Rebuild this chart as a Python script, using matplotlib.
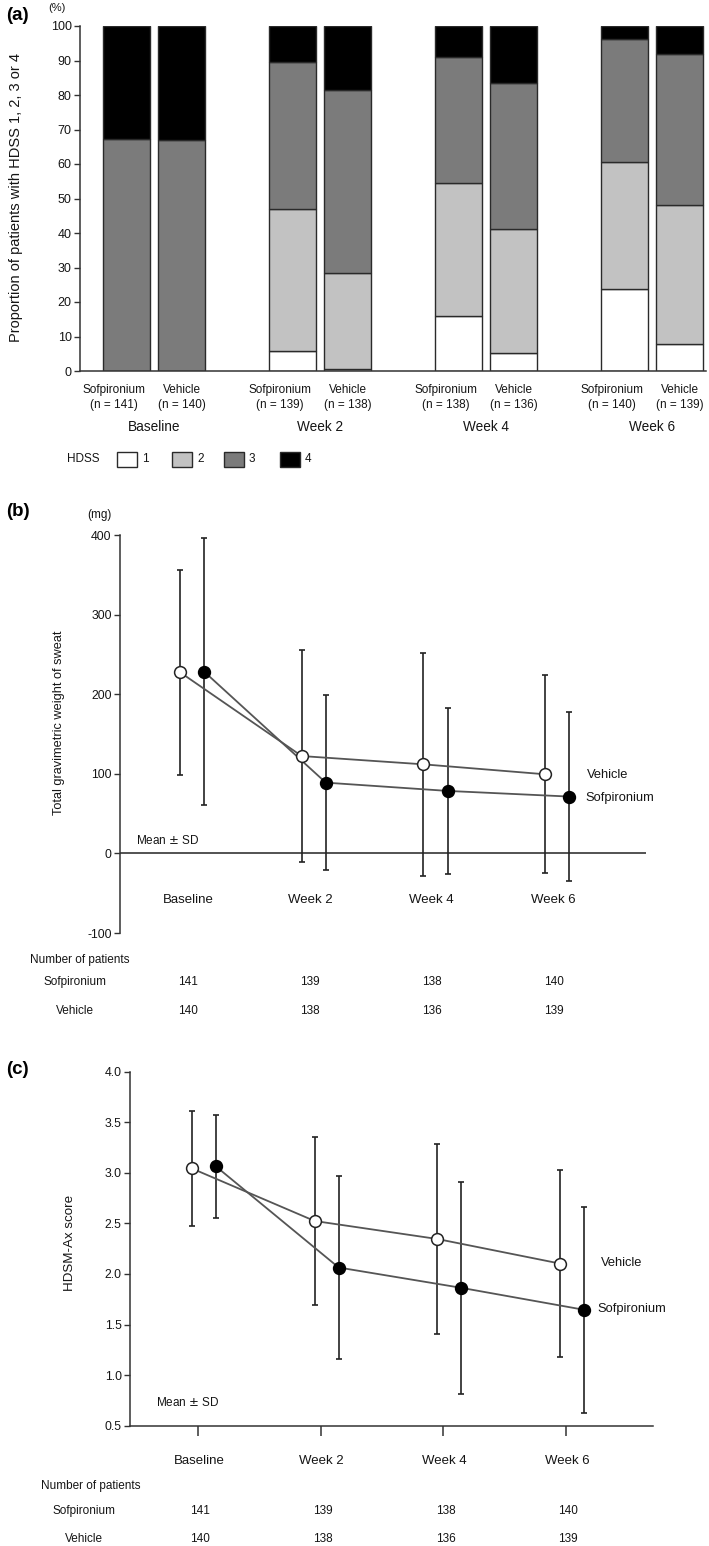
import matplotlib
matplotlib.use('Agg')
import matplotlib.pyplot as plt
import matplotlib.transforms as mtransforms
from matplotlib.patches import Rectangle
import numpy as np

plt.rcParams['font.family'] = ['Liberation Sans Narrow', 'Liberation Sans', 'DejaVu Sans']

# ---------------- data ----------------
timepoints = ['Baseline', 'Week 2', 'Week 4', 'Week 6']
treatments = ['Sofpironium', 'Vehicle']
n_sof = [141, 139, 138, 140]
n_veh = [140, 138, 136, 139]

# (a) HDSS proportions (%)
hdss_levels = ['1', '2', '3', '4']
hdss1_sof = [0.0, 5.9, 15.9, 23.7]
hdss2_sof = [0.0, 41.0, 38.5, 37.0]
hdss3_sof = [67.2, 42.8, 36.5, 35.5]
hdss4_sof = [32.8, 10.3, 9.1, 3.8]
hdss1_veh = [0.0, 0.7, 5.1, 7.8]
hdss2_veh = [0.0, 27.6, 36.0, 40.3]
hdss3_veh = [67.0, 53.1, 42.5, 43.7]
hdss4_veh = [33.0, 18.6, 16.4, 8.2]

# (b) gravimetric weight of sweat (mg), mean and SD
sweat_sof_mean = [228.4, 88.9, 78.5, 71.4]
sweat_sof_sd = [167.9, 110.0, 104.2, 106.0]
sweat_veh_mean = [227.6, 122.3, 111.9, 99.4]
sweat_veh_sd = [129.0, 133.4, 139.7, 124.3]

# (c) HDSM-Ax score, mean and SD
hdsm_sof_mean = [3.063, 2.064, 1.863, 1.646]
hdsm_sof_sd = [0.511, 0.900, 1.045, 1.020]
hdsm_veh_mean = [3.043, 2.524, 2.346, 2.103]
hdsm_veh_sd = [0.572, 0.830, 0.935, 0.923]

# ---------------- styling ----------------
W, H = 709, 1546
fig = plt.figure(figsize=(W / 100, H / 100), dpi=100)
TXT = '#151515'
FS = 8.5

def px_axes(l, r, t, b):
    return [l / W, 1 - b / H, (r - l) / W, (b - t) / H]

ov = fig.add_axes([0, 0, 1, 1], zorder=10)
ov.set_xlim(0, W)
ov.set_ylim(H, 0)
ov.axis('off')

def style_left(ax, lsize):
    ax.patch.set_alpha(0)
    for s in ['top', 'right']:
        ax.spines[s].set_visible(False)
    ax.spines['left'].set_color('#333333')
    ax.spines['left'].set_linewidth(1.1)
    ax.tick_params(axis='y', direction='out', length=4, width=1.0, colors='#333333',
                   labelsize=lsize, labelcolor=TXT, pad=2)

# ---------------- panel (a) ----------------
axA = fig.add_axes(px_axes(80, 706, 26, 371))
x = np.arange(len(timepoints))
off = 0.166
bw = 0.282
colors = ['#ffffff', '#c2c2c2', '#7b7b7b', '#000000']
sof_stack = [hdss1_sof, hdss2_sof, hdss3_sof, hdss4_sof]
veh_stack = [hdss1_veh, hdss2_veh, hdss3_veh, hdss4_veh]
for pos, stack in [(x - off, sof_stack), (x + off, veh_stack)]:
    bottom = np.zeros(len(x))
    for vals, c in zip(stack, colors):
        v = np.array(vals)
        axA.bar(pos, v, bw, bottom=bottom, color=c, edgecolor='#2a2a2a', linewidth=1.0)
        bottom += v
axA.set_ylim(0, 100)
axA.set_xlim(-0.446, 3.325)
axA.set_yticks(np.arange(0, 101, 10))
axA.set_xticks([])
style_left(axA, 9)
axA.spines['bottom'].set_color('#333333')
axA.spines['bottom'].set_linewidth(1.1)

trA = mtransforms.blended_transform_factory(axA.transData, ov.transData)
for i in range(len(x)):
    ov.text(x[i] - off - 0.075, 390, treatments[0], transform=trA, ha='center', va='center',
            fontsize=8.5, color=TXT)
    ov.text(x[i] - off - 0.075, 405, f'(n = {n_sof[i]})', transform=trA, ha='center',
            va='center', fontsize=8.5, color=TXT)
    ov.text(x[i] + off, 390, treatments[1], transform=trA, ha='center', va='center',
            fontsize=8.5, color=TXT)
    ov.text(x[i] + off, 405, f'(n = {n_veh[i]})', transform=trA, ha='center',
            va='center', fontsize=8.5, color=TXT)
    ov.text(x[i], 427, timepoints[i], transform=trA, ha='center', va='center',
            fontsize=9.8, color=TXT)

ov.text(6, 16, '(a)', fontsize=13.5, fontweight='bold', va='center', ha='left')
ov.text(57, 8, '(%)', fontsize=8, va='center', ha='center', color=TXT)
ov.text(16, 197, 'Proportion of patients with HDSS 1, 2, 3 or 4', rotation=90,
        fontsize=10.5, va='center', ha='center', color=TXT)

# legend
ov.text(67, 459, 'HDSS', fontsize=8.5, va='center', ha='left', color=TXT)
leg_x = [117, 172, 224, 280]
for lx, c, lab in zip(leg_x, colors, hdss_levels):
    ov.add_patch(Rectangle((lx, 452), 20, 15, facecolor=c, edgecolor='#2a2a2a', lw=1.0))
    ov.text(lx + 25, 459, lab, fontsize=8.5, va='center', ha='left', color=TXT)

# ---------------- line panels ----------------
def line_panel(ax, sof_m, sof_s, veh_m, veh_s, xoff):
    xs = np.arange(len(timepoints))
    ax.errorbar(xs - xoff, veh_m, yerr=veh_s, fmt='none', ecolor='#222222', elinewidth=1.2,
                capsize=2.5, capthick=1.2, zorder=2)
    ax.errorbar(xs + xoff, sof_m, yerr=sof_s, fmt='none', ecolor='#222222', elinewidth=1.2,
                capsize=2.5, capthick=1.2, zorder=2)
    ax.plot(xs - xoff, veh_m, '-', color='#555555', lw=1.3, zorder=3)
    ax.plot(xs + xoff, sof_m, '-', color='#555555', lw=1.3, zorder=3)
    ax.plot(xs - xoff, veh_m, 'o', ms=8.5, mfc='white', mec='#222222', mew=1.1, zorder=4)
    ax.plot(xs + xoff, sof_m, 'o', ms=8.5, mfc='black', mec='black', mew=1.1, zorder=4)

# ---------------- panel (b) ----------------
axB = fig.add_axes(px_axes(120, 646, 535, 933))
xoffB = 0.099
line_panel(axB, sweat_sof_mean, sweat_sof_sd, sweat_veh_mean, sweat_veh_sd, xoffB)
axB.set_ylim(-100, 400)
axB.set_xlim(-0.592, 3.73)
axB.set_yticks([-100, 0, 100, 200, 300, 400])
axB.set_yticklabels(['-100', '0', '100', '200', '300', '400'])
axB.set_xticks([])
style_left(axB, 8.8)
axB.spines['bottom'].set_visible(False)
axB.axhline(0, color='#444444', lw=1.3, zorder=1)

trB = mtransforms.blended_transform_factory(axB.transData, ov.transData)
xs = np.arange(len(timepoints))
for i in range(len(xs)):
    ov.text(xs[i] - 0.03, 900, timepoints[i], transform=trB, ha='center', va='center',
            fontsize=9.5, color=TXT)
    ov.text(xs[i] - 0.03, 982, str(n_sof[i]), transform=trB, ha='center', va='center',
            fontsize=FS, color=TXT)
    ov.text(xs[i] - 0.03, 1011, str(n_veh[i]), transform=trB, ha='center', va='center',
            fontsize=FS, color=TXT)
ov.text(30, 960, 'Number of patients', fontsize=FS, va='center', ha='left', color=TXT)
ov.text(75, 982, 'Sofpironium', fontsize=FS, va='center', ha='center', color=TXT)
ov.text(75, 1011, 'Vehicle', fontsize=FS, va='center', ha='center', color=TXT)
ov.text(136, 841, 'Mean $\\pm$ SD', fontsize=FS, va='center', ha='left', color=TXT)
ov.text(587, 775, 'Vehicle', fontsize=9.3, va='center', ha='left', color=TXT)
ov.text(585, 798, 'Sofpironium', fontsize=9.3, va='center', ha='left', color=TXT)
ov.text(6, 512, '(b)', fontsize=13.5, fontweight='bold', va='center', ha='left')
ov.text(99, 515, '(mg)', fontsize=8.5, va='center', ha='center', color=TXT)
ov.text(59, 723, 'Total gravimetric weight of sweat', rotation=90, fontsize=9.2,
        va='center', ha='center', color=TXT)

# ---------------- panel (c) ----------------
axC = fig.add_axes(px_axes(130, 653, 1071.7, 1425.7))
xoffC = 0.098
line_panel(axC, hdsm_sof_mean, hdsm_sof_sd, hdsm_veh_mean, hdsm_veh_sd, xoffC)
axC.set_ylim(0.5, 4.0)
axC.set_xlim(-0.603, 3.66)
yt = np.arange(0.5, 4.01, 0.5)
axC.set_yticks(yt)
axC.set_yticklabels([f'{v:.1f}' for v in yt])
style_left(axC, 8.8)
axC.spines['bottom'].set_color('#333333')
axC.spines['bottom'].set_linewidth(1.1)
axC.set_xticks(xs - 0.05)
axC.set_xticklabels([])
axC.tick_params(axis='x', direction='out', length=7.5, width=1.1, colors='#333333')

trC = mtransforms.blended_transform_factory(axC.transData, ov.transData)
for i in range(len(xs)):
    ov.text(xs[i] - 0.04, 1461, timepoints[i], transform=trC, ha='center', va='center',
            fontsize=9.5, color=TXT)
    ov.text(xs[i] - 0.03, 1511, str(n_sof[i]), transform=trC, ha='center', va='center',
            fontsize=FS, color=TXT)
    ov.text(xs[i] - 0.03, 1539, str(n_veh[i]), transform=trC, ha='center', va='center',
            fontsize=FS, color=TXT)
ov.text(41, 1486, 'Number of patients', fontsize=FS, va='center', ha='left', color=TXT)
ov.text(84, 1511, 'Sofpironium', fontsize=FS, va='center', ha='center', color=TXT)
ov.text(84, 1539, 'Vehicle', fontsize=FS, va='center', ha='center', color=TXT)
ov.text(156, 1403, 'Mean $\\pm$ SD', fontsize=FS, va='center', ha='left', color=TXT)
ov.text(601, 1263, 'Vehicle', fontsize=9.3, va='center', ha='left', color=TXT)
ov.text(597, 1309, 'Sofpironium', fontsize=9.3, va='center', ha='left', color=TXT)
ov.text(6, 1070, '(c)', fontsize=13.5, fontweight='bold', va='center', ha='left')
ov.text(70, 1243, 'HDSM-Ax score', rotation=90, fontsize=9.6,
        va='center', ha='center', color=TXT)

fig.savefig('out.png', dpi=100)
